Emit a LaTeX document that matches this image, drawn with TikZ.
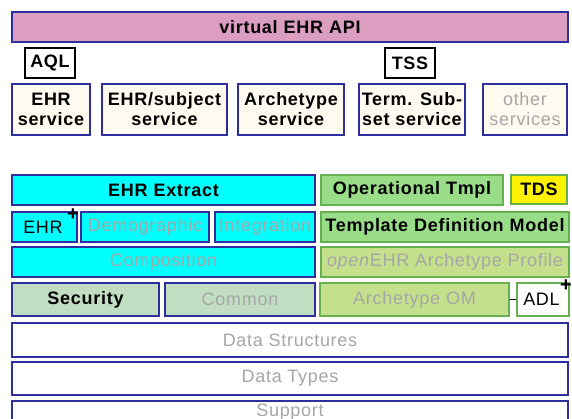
\documentclass[tikz,border=0pt]{standalone}
\usepackage{fontspec}
\setmainfont[LetterSpace=4]{Liberation Sans}
\usetikzlibrary{arrows,arrows.meta}

\definecolor{navy}{HTML}{2E2E9E}
\definecolor{leaf}{HTML}{66B050}
\definecolor{apipink}{HTML}{DC9EC0}
\definecolor{cream}{HTML}{FFFAF0}
\definecolor{aqua}{HTML}{00FFFF}
\definecolor{olive}{HTML}{C4E08C}
\definecolor{mint}{HTML}{99DD88}
\definecolor{sage}{HTML}{C2DEC2}
\definecolor{faded}{HTML}{A6A6A6}

\begin{document}
\begin{tikzpicture}[
        x=1pt, y=-1pt,
        line width=1.4pt]

        \tikzstyle{every node}=[
            inner sep = 0pt,
            align = center,
            font = \fontsize{18}{20}\selectfont
        ]
        \tikzstyle{blu}=[draw = navy]
        \tikzstyle{grn}=[draw = leaf]
        \tikzstyle{b}=[font=\fontsize{18}{20}\selectfont\bfseries]
        \tikzstyle{g}=[text = faded]
        \tikzset{sz/.style 2 args={minimum width=#1pt, minimum height=#2pt}}

        \useasboundingbox (0,0) rectangle (572,419);
        \clip (0,0) rectangle (572,419);

        % API layer
        \node[blu, b, fill=apipink, sz={556}{30}] (api) at (290,27) {virtual\,\,EHR\,\,API};
        \node[draw=black, b, fill=white, sz={50}{30}] (aql) at (50,63) {AQL};
        \node[draw=black, b, fill=white, sz={50}{30}] (tss) at (410,63) {TSS};

        % services
        \node[blu, b, fill=cream, sz={78}{51}] (ehrsvc) at (51,109.5) {EHR\\service};
        \node[blu, b, fill=cream, sz={125}{51}] (subjsvc) at (164.5,109.5) {EHR/subject\\service};
        \node[blu, b, fill=cream, sz={106}{51}] (archsvc) at (291,109.5) {Archetype\\service};
        \node[blu, b, fill=cream, sz={106}{51}] (termsvc) at (412,109.5) {Term. Sub-\\set service};
        \node[blu, g, fill=cream, sz={84}{51}] (othersvc) at (525,109.5) {other\\services};

        % RM / AM packages
        \node[blu, b, fill=aqua, sz={303}{30}] (extract) at (163.5,190) {EHR\,\,Extract};
        \node[grn, b, fill=mint, sz={182}{30}] (optmpl) at (412,190) {Operational\,\,Tmpl};
        \node[grn, b, fill=yellow, sz={56}{29}] (tds) at (539,189.5) {TDS};

        \node[blu, fill=aqua, sz={65}{30}] (ehrp) at (44.5,227) {EHR\,};
        \node[blu, g, fill=aqua, sz={128}{30}] (demog) at (145,227) {Demographic};
        \node[blu, g, fill=aqua, sz={100}{30}] (integ) at (265,227) {Integration};
        \node[grn, b, fill=mint, sz={248}{30}] (tdm) at (445,227) {Template\,\,Definition\,\,Model};

        \node[blu, g, fill=aqua, sz={303}{30}] (comp) at (163.5,262) {Composition};
        \node[grn, g, fill=olive, sz={248}{30}] (profile) at (445,262) {\textit{open}EHR Archetype Profile};

        \node[blu, b, fill=sage, sz={147}{33}] (security) at (85.5,299.5) {Security};
        \node[blu, g, fill=sage, sz={150}{33}] (common) at (240,299.5) {Common};
        \node[grn, g, fill=olive, sz={189}{33}] (archom) at (414.5,299.5) {Archetype\,\,OM};
        \node[grn, fill=white, sz={52}{33}] (adl) at (543,299.5) {ADL\,};
        \draw[line width=1pt] (archom) -- (adl);

        % plus marks
        \node[font=\fontsize{20}{20}\selectfont\bfseries] (ehrplus) at (73,215) {+};
        \node[font=\fontsize{20}{20}\selectfont\bfseries] (adlplus) at (566,286) {+};

        % base layers
        \node[blu, g, fill=white, sz={556}{34}] (ds) at (290,340) {Data Structures};
        \node[blu, g, fill=white, sz={556}{33}] (dt) at (290,378.5) {Data Types};
        \node[blu, g, fill=white, sz={556}{22}] (sup) at (290,412) {Support};
    \end{tikzpicture}
\end{document}
